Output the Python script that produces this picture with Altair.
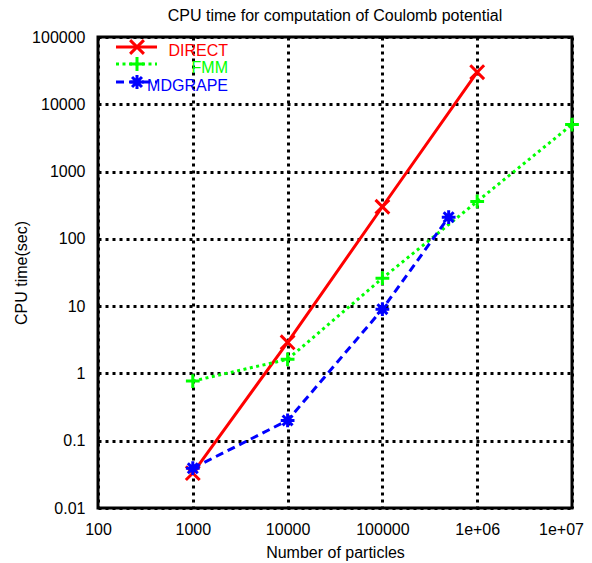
import altair as alt
import pandas as pd

# ---- data ----
direct_n = [1000, 10000, 100000, 1000000]
direct_t = [0.033, 2.9, 300, 30000]
fmm_n = [1000, 10000, 100000, 1000000, 10000000]
fmm_t = [0.77, 1.62, 26, 360, 5000]
mdg_n = [1000, 10000, 100000, 500000]
mdg_t = [0.039, 0.2, 9.0, 210]

x_ticks = [100, 1000, 10000, 100000, 1000000, 10000000]
x_tick_labels = ["100", "1000", "10000", "100000", "1e+06", "1e+07"]
y_ticks = [0.01, 0.1, 1, 10, 100, 1000, 10000, 100000]
y_tick_labels = ["0.01", "0.1", "1", "10", "100", "1000", "10000", "100000"]

TITLE = "CPU time for computation of Coulomb potential"
FONT = "Liberation Sans"
W, H = 474, 471


def label_expr(vals, labels):
    expr = "''"
    for v, l in zip(reversed(vals), reversed(labels)):
        expr = f"abs(datum.value - {v}) < {v}*1e-6 ? '{l}' : ({expr})"
    return expr


xdef = alt.X("n:Q", scale=alt.Scale(type="log", domain=[100, 10000000], nice=False),
             axis=alt.Axis(values=x_ticks, labelExpr=label_expr(x_ticks, x_tick_labels),
                           labelPadding=13, titleY=36, titleBaseline="top",
                           labelOffset={"condition": {"test": "datum.value > 5000000", "value": -11},
                                        "value": 0}),
             title="Number of particles")
ydef = alt.Y("t:Q", scale=alt.Scale(type="log", domain=[0.01, 100000], nice=False),
             axis=alt.Axis(values=y_ticks, labelExpr=label_expr(y_ticks, y_tick_labels),
                           labelPadding=13, titleX=-77, titleBaseline="middle"),
             title="CPU time(sec)")

SHAPE_X = "M-1,-1L1,1M-1,1L1,-1"
SHAPE_PLUS = "M-1,0L1,0M0,-1L0,1"
SHAPE_STAR = "M-1,0L1,0M0,-1L0,1M-0.72,-0.72L0.72,0.72M-0.72,0.72L0.72,-0.72"

series = [
    ("DIRECT", direct_n, direct_t, "#ff0000", None, SHAPE_X),
    ("FMM", fmm_n, fmm_t, "#00ff00", [3, 3.5], SHAPE_PLUS),
    ("MDGRAPE", mdg_n, mdg_t, "#0000ff", [8, 5], SHAPE_STAR),
]

layers = []
for name, ns, ts, color, dash, shape in series:
    df = pd.DataFrame({"n": ns, "t": ts})
    base = alt.Chart(df).encode(x=xdef, y=ydef)
    lkw = dict(color=color, strokeWidth=3, clip=True)
    if dash:
        lkw["strokeDash"] = dash
    layers.append(base.mark_line(**lkw))
    layers.append(base.mark_point(shape=shape, size=190, filled=False, color=color,
                                  strokeWidth=3, opacity=1))

# ---- manual legend (top-left inside the plot) ----
one = pd.DataFrame({"a": [0]})
leg_y = [10, 27, 45]
for (name, ns, ts, color, dash, shape), ly in zip(series, leg_y):
    rkw = dict(color=color, strokeWidth=3)
    if dash:
        rkw["strokeDash"] = dash
    layers.append(alt.Chart(one).mark_rule(**rkw).encode(
        x=alt.value(18), x2=alt.value(59), y=alt.value(ly)))
    layers.append(alt.Chart(one).mark_point(shape=shape, size=190, filled=False, color=color,
                                            strokeWidth=3, opacity=1).encode(
        x=alt.value(39), y=alt.value(ly)))
    layers.append(alt.Chart(one).mark_text(text=name, align="right", baseline="middle",
                                           font=FONT, fontSize=16, color=color).encode(
        x=alt.value(130), y=alt.value(ly + 4)))

# ---- title as text above the plot area ----
layers.append(alt.Chart(one).mark_text(text=TITLE, align="center", baseline="alphabetic",
                                       font=FONT, fontSize=16, color="black").encode(
    x=alt.value(W / 2), y=alt.value(-16)))

chart = alt.layer(*layers).properties(
    width=W, height=H,
    autosize=alt.AutoSizeParams(type="none"),
    padding={"left": 90, "top": 29, "right": 12, "bottom": 55},
    background="white",
).configure_view(
    stroke="black", strokeWidth=3
).configure_axis(
    grid=True, gridColor="black", gridDash=[3, 4], gridWidth=3, gridOpacity=1,
    domain=False, ticks=False, tickSize=0,
    labelFont=FONT, labelFontSize=16, labelColor="black",
    labelFlush=False, labelOverlap=False,
    titleFont=FONT, titleFontSize=16, titleFontWeight="normal", titleColor="black",
)

chart.save("out.html", embed_options={"renderer": "svg", "actions": False})
